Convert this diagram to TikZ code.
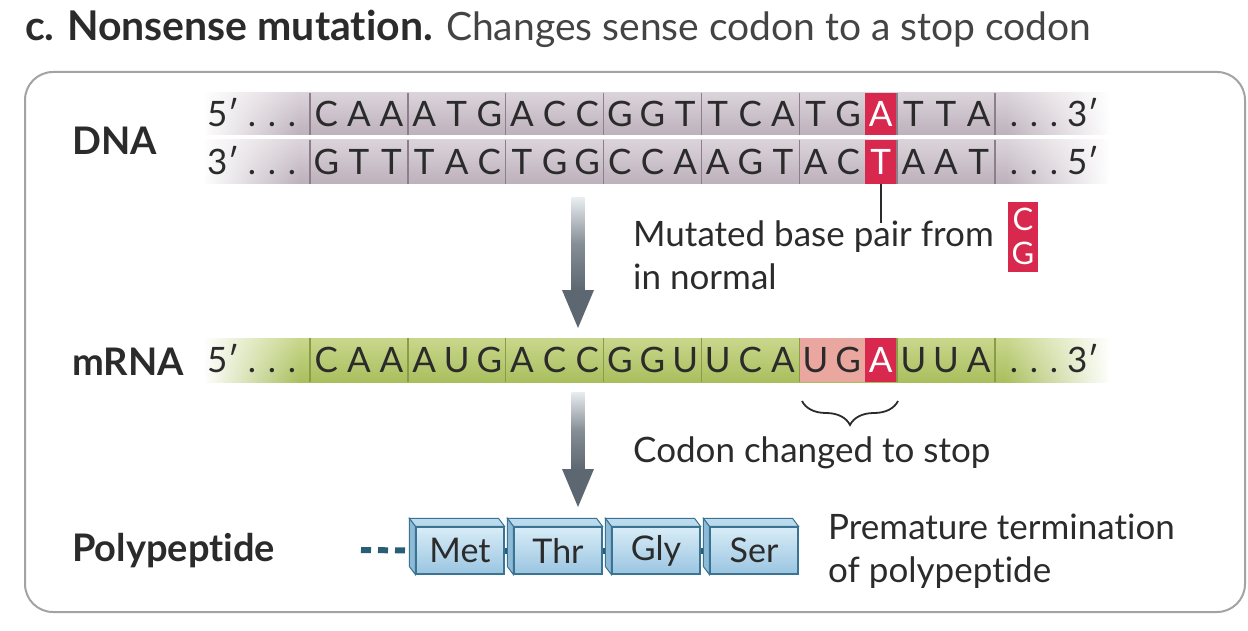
\documentclass[tikz,border=0pt]{standalone}
\usepackage{fontspec}
\setmainfont{Lato}[Ligatures=NoCommon]
\usetikzlibrary{calc,fadings,decorations.pathreplacing}
\definecolor{txtc}{HTML}{2B2B2B}
\definecolor{dnaT}{HTML}{DBD3DA}
\definecolor{dnaB}{HTML}{BDB1BC}
\definecolor{dnaLine}{HTML}{8C7F8B}
\definecolor{rnaT}{HTML}{C9D78C}
\definecolor{rnaB}{HTML}{A9BF5E}
\definecolor{rnaLine}{HTML}{8A9C48}
\definecolor{mutred}{HTML}{D8284E}
\definecolor{pinkc}{HTML}{EAA79F}
\definecolor{framec}{HTML}{A3A3A3}
\definecolor{arrD}{HTML}{5C6771}
\definecolor{arrL}{HTML}{E8ECEE}
\definecolor{pepT}{HTML}{D8ECF7}
\definecolor{pepB}{HTML}{9AC5E1}
\definecolor{pepSide}{HTML}{8DBBD7}
\definecolor{pepTop}{HTML}{BBDAED}
\definecolor{pepEdge}{HTML}{3B7393}
\definecolor{bondc}{HTML}{2A5D76}
\tikzfading[name=fadeL, left color=transparent!0, right color=transparent!100]
\tikzfading[name=fadeR, left color=transparent!100, right color=transparent!0]
\begin{document}
\begin{tikzpicture}[x=1pt,y=-1pt,
  bodytxt/.style={font=\fontsize{35}{42}\selectfont, text=txtc, inner sep=0pt, anchor=base west},
  rowlabel/.style={font=\fontsize{38}{44}\selectfont\bfseries, text=txtc, inner sep=0pt, anchor=base west},
  letter/.style={font=\fontsize{35}{42}\selectfont, text=txtc, inner sep=0pt, anchor=base},
  wletter/.style={letter, text=white},
  cell/.style={rectangle, inner sep=0pt, minimum width=32.6pt, minimum height=42pt, fill=mutred},
  pepbox/.style={rectangle, inner sep=0pt, minimum width=88pt, minimum height=47pt,
     top color=pepT, bottom color=pepB, draw=pepEdge, line width=1.2pt,
     font=\fontsize{34}{40}\selectfont, text=txtc},
  bondline/.style={bondc, line width=6pt},
  bigarrow/.style={arrD},
]
\useasboundingbox (0,0) rectangle (1248,631);
% title and frame
\node[anchor=base west, inner sep=0pt, text=txtc, font=\fontsize{39}{44}\selectfont] (title) at (25,41)
  {{\fontsize{41}{44}\selectfont\bfseries c.\hspace{0.3em}Nonsense mutation.} {\color{txtc!88!white}Changes sense codon to a stop codon}};
\draw[framec, line width=2pt, rounded corners=28pt] (25,72) rectangle (1245,612);

% row labels
\node[rowlabel] (lblDNA) at (72,155) {DNA};
\node[rowlabel] (lblRNA) at (72,375) {mRNA};
\node[rowlabel] (lblPep) at (72,561) {Polypeptide};

% ---- strands ----
\shade[top color=dnaT, bottom color=dnaB] (205,93) rectangle (1108,135);
\shade[top color=dnaT, bottom color=dnaB] (205,140) rectangle (1108,184);
\shade[top color=rnaT, bottom color=rnaB] (205,338) rectangle (1108,382);
\fill[white, path fading=fadeL] (203,90) rectangle (300,386);
\fill[white, path fading=fadeR] (1005,90) rectangle (1110,386);

% highlighted cells
\node[cell] (mutA) at (880.8,114) {};
\node[cell, minimum height=44pt] (mutT) at (880.8,162) {};
\node[cell, fill=pinkc, minimum width=65.2pt, minimum height=44pt] (pinkUG) at (831.9,360) {};
\node[cell, minimum height=44pt] (mutRA) at (880.8,360) {};

% codon dividers
\foreach \k in {0,...,7} {
  \draw[dnaLine, line width=1.4pt] ({310+97.857*\k},93) -- ({310+97.857*\k},135);
  \draw[dnaLine, line width=1.4pt] ({310+97.857*\k},140) -- ({310+97.857*\k},184);
  \draw[rnaLine, line width=1.4pt] ({310+97.857*\k},338) -- ({310+97.857*\k},382);
}

% sequences
\foreach \b [count=\i from 0] in {C,A,A,A,T,G,A,C,C,G,G,T,T,C,A,T,G,{},T,T,A}
  \node[letter] (t\i) at ({310+32.619*(\i+0.5)},126.5) {\b};
\foreach \b [count=\i from 0] in {G,T,T,T,A,C,T,G,G,C,C,A,A,G,T,A,C,{},A,A,T}
  \node[letter] (c\i) at ({310+32.619*(\i+0.5)},174.5) {\b};
\foreach \b [count=\i from 0] in {C,A,A,A,U,G,A,C,C,G,G,U,U,C,A,U,G,{},U,U,A}
  \node[letter] (r\i) at ({310+32.619*(\i+0.5)},372.5) {\b};
\node[wletter] (tA) at (mutA.center |- 0,126.5) {A};
\node[wletter] (cT) at (mutT.center |- 0,174.5) {T};
\node[wletter] (rA) at (mutRA.center |- 0,372.5) {A};

% strand ends
\foreach \y/\l/\r [count=\j] in {126.5/5/3,174.5/3/5,372.5/5/3} {
  \node[letter, anchor=base west] (endL\j) at (207,\y) {\l′};
  \node[letter] (dla\j) at (252,\y) {.};
  \node[letter] (dlb\j) at (272,\y) {.};
  \node[letter] (dlc\j) at (292,\y) {.};
  \node[letter] (dra\j) at (1014,\y) {.};
  \node[letter] (drb\j) at (1034,\y) {.};
  \node[letter] (drc\j) at (1054,\y) {.};
  \node[letter, anchor=base east] (endR\j) at (1099,\y) {\r′};
}

% mutation annotation
\coordinate (tickEnd) at (mutT.south |- 0,223);
\draw[txtc, line width=1.5pt] (mutT.south) -- (tickEnd);
\node[bodytxt] (mutTxt1) at (633,247) {Mutated base pair from};
\node[bodytxt] (mutTxt2) at (633,290) {in normal};
\node[fill=mutred, inner sep=0pt, minimum width=30pt, minimum height=70pt] (cgbox) at (1023,237) {};
\node[letter, text=white, font=\fontsize{31}{36}\selectfont] (cgC) at (1023,231) {C};
\node[letter, text=white, font=\fontsize{31}{36}\selectfont] (cgG) at (1023,265) {G};

% brace
\coordinate (brL) at (802,401);
\coordinate (brR) at (898,401);
\draw[txtc, line width=1.8pt, decorate, decoration={brace, mirror, amplitude=24pt, aspect=0.5}] (brL) -- (brR);
\node[bodytxt] (stopTxt) at (633,462) {Codon changed to stop};

% big arrows
\coordinate (a1s) at (578,198);
\coordinate (a1e) at (578,328);
\shade[top color=arrL, bottom color=arrD, middle color=arrD!75!white] ($(a1s)+(-6.5,0)$) rectangle ($(a1e)+(6.5,-37)$);
\fill[bigarrow] ($(a1e)+(-16,-38)$) -- ($(a1e)+(16,-38)$) -- (a1e) -- cycle;
\coordinate (a2s) at (578,392);
\coordinate (a2e) at (578,507);
\shade[top color=arrL, bottom color=arrD, middle color=arrD!75!white] ($(a2s)+(-6.5,0)$) rectangle ($(a2e)+(6.5,-37)$);
\fill[bigarrow] ($(a2e)+(-16,-38)$) -- ($(a2e)+(16,-38)$) -- (a2e) -- cycle;

% polypeptide
\coordinate (nterm) at (361,550);
\foreach \n/\t/\x in {met/Met/416, thr/Thr/514, gly/Gly/612, ser/Ser/710} {
  \node[pepbox] (\n) at ({\x+44},550.5) {\t};
  \filldraw[fill=pepTop, draw=pepEdge, line width=1pt] (\n.north west) -- ++(-6,-8) -- ($(\n.north east)+(-6,-8)$) -- (\n.north east) -- cycle;
  \filldraw[fill=pepSide, draw=pepEdge, line width=1pt] (\n.north west) -- ++(-6,-8) -- ($(\n.south west)+(-6,-8)$) -- (\n.south west) -- cycle;
}
\draw[bondline, dash pattern=on 10pt off 7pt] (nterm) -- ($(met.west)+(-6,0)$);
\draw[bondline] (met.east) -- ($(thr.west)+(-6,0)$);
\draw[bondline] (thr.east) -- ($(gly.west)+(-6,0)$);
\draw[bondline] (gly.east) -- ($(ser.west)+(-6,0)$);

\node[bodytxt] (premTxt1) at (828,539) {Premature termination};
\node[bodytxt] (premTxt2) at (828,582) {of polypeptide};
\end{tikzpicture}
\end{document}
